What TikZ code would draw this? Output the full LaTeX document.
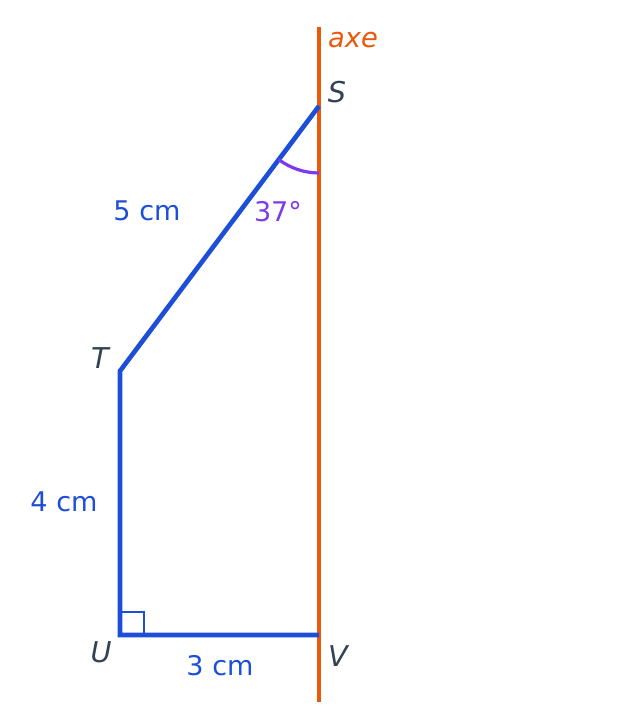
\documentclass[tikz,border=0pt]{standalone}
\usepackage{fontspec}
\setmainfont{DejaVu Sans}
\usetikzlibrary{calc}
\definecolor{segblue}{HTML}{1D4ED8}
\definecolor{axeorange}{HTML}{EA580C}
\definecolor{anglepurple}{HTML}{7C3AED}
\definecolor{ptlabel}{HTML}{334155}
\begin{document}
\begin{tikzpicture}[x=0.75pt,y=-0.75pt,
  seg/.style={draw=segblue,line width=3.5pt,line join=miter},
  axis/.style={draw=axeorange,line width=3.2pt},
  ptname/.style={text=ptlabel,font=\fontsize{21.5}{25}\selectfont\itshape,inner sep=0pt},
  lenlabel/.style={text=segblue,font=\fontsize{20.3}{24}\selectfont,inner sep=0pt},
  anglabel/.style={text=anglepurple,font=\fontsize{20.3}{24}\selectfont,inner sep=0pt}]
\useasboundingbox (0,0) rectangle (637,723);
\coordinate (S) at (319,106);
\coordinate (T) at (120,371);
\coordinate (U) at (120,635);
\coordinate (V) at (319,635);
\coordinate (axtop) at (319,27);
\coordinate (axbot) at (319,702);
% right angle mark
\draw[draw=segblue,line width=2.2pt] (120,612) -- (144,612) -- (144,635);
% axis
\draw[axis] (axtop) -- (axbot);
% polygon
\draw[seg] (S) -- (T) -- (U) -- (V);
% angle arc
\draw[draw=anglepurple,line width=2.4pt] ($(S)+(126.9:67)$) arc[start angle=126.9,end angle=90,radius=67];
% labels
\node[text=axeorange,font=\fontsize{20.5}{24}\selectfont\itshape,inner sep=0pt] (axelbl) at (353,40) {axe};
\node[ptname] (Slbl) at (337,92) {S};
\node[ptname] (Tlbl) at (100,358) {T};
\node[ptname] (Ulbl) at (101,652) {U};
\node[ptname] (Vlbl) at (338,656) {V};
\node[lenlabel] (l5) at (147,211) {5 cm};
\node[lenlabel] (l4) at (64,502) {4 cm};
\node[lenlabel] (l3) at (220,666) {3 cm};
\node[anglabel] (a37) at (278,212) {37°};
\end{tikzpicture}
\end{document}
